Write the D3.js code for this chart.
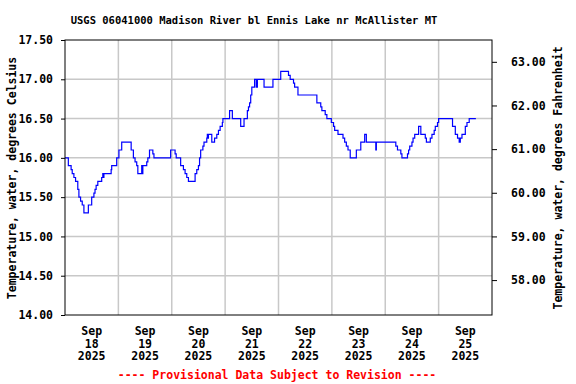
<!DOCTYPE html>
<html>
<head>
<meta charset="utf-8">
<script src="https://cdn.jsdelivr.net/npm/d3@7"></script>
<style>
  body { margin: 0; background: #fff; }
  text { font-family: "DejaVu Sans Mono", monospace; font-weight: bold; }
</style>
</head>
<body>
<svg id="chart" width="576" height="384"></svg>
<script>
// hours after Sep 18 2025 00:00 where the reading changes, and the new reading
var stepHours = [0, 1.5, 2.75, 3.25, 4, 4.75, 5.75, 6.25, 7, 7.75, 8.5, 10.5, 12, 13, 13.5, 14, 14.75,
  16.5, 17, 17.25, 17.5, 20.75, 21, 23.25, 24.25, 25.5, 29.75, 30.75, 31.5, 32.25, 32.75, 34.5, 34.75,
  35, 36.75, 37.25, 38, 39.5, 40, 47.5, 49.5, 50, 52, 53.25, 54, 54.75, 55.5, 58.5, 59.25, 60, 60.5,
  61, 62, 62.5, 63.75, 64, 64.25, 64.5, 66, 67.25, 68.25, 69, 69.75, 70.75, 71, 74, 75.25, 79, 80.5,
  82, 82.5, 83, 83.5, 84, 85.25, 86, 86.5, 89.5, 93.5, 97, 100.5, 101.25, 102.75, 103.25, 104.75,
  113.25, 115, 115.5, 117, 117.75, 119.75, 120.75, 121.25, 122.75, 125, 125.75, 126.5, 127.25, 128.25,
  131, 133, 134.75, 135.5, 139.75, 140, 148.75, 149.5, 151, 151.5, 154, 154.5, 155, 156, 156.5, 157.25,
  159, 160, 162, 162.5, 164.25, 165, 166, 166.5, 167.5, 168, 174.25, 175.5, 176.5, 177.25, 177.75,
  178.5, 180, 180.75, 181.75, 184.75];
var tempC = [16.0, 15.9, 15.85, 15.8, 15.75, 15.7, 15.6, 15.5, 15.45, 15.4, 15.3, 15.4, 15.5, 15.55, 15.6, 15.65, 15.7,
  15.75, 15.8, 15.75, 15.8, 15.85, 15.9, 16.0, 16.1, 16.2, 16.1, 16.0, 15.95, 15.9, 15.8, 15.9, 15.8,
  15.9, 15.95, 16.0, 16.1, 16.05, 16.0, 16.1, 16.05, 16.0, 15.9, 15.85, 15.8, 15.75, 15.7, 15.8, 15.85, 15.9, 16.0,
  16.1, 16.15, 16.2, 16.25, 16.3, 16.25, 16.3, 16.2, 16.25, 16.3, 16.35, 16.4, 16.45, 16.5, 16.6, 16.5, 16.4, 16.5,
  16.6, 16.65, 16.7, 16.8, 16.9, 17.0, 16.9, 17.0, 16.9, 17.0, 17.1, 17.05, 17.0, 16.95, 16.9, 16.8,
  16.7, 16.65, 16.6, 16.55, 16.5, 16.45, 16.4, 16.35, 16.3, 16.25, 16.2, 16.15, 16.1, 16.0,
  16.1, 16.2, 16.3, 16.2, 16.1, 16.2, 16.15, 16.1, 16.05, 16.0, 16.05, 16.1, 16.15, 16.2, 16.25, 16.3,
  16.4, 16.3, 16.25, 16.2, 16.25, 16.3, 16.35, 16.4, 16.45, 16.5, 16.4, 16.3, 16.25, 16.2, 16.25,
  16.3, 16.4, 16.45, 16.5, 16.5];

var dayLabels = ["18", "19", "20", "21", "22", "23", "24", "25"];
var celsiusTicks = [14.0, 14.5, 15.0, 15.5, 16.0, 16.5, 17.0, 17.5];
var fahrenheitTicks = [58, 59, 60, 61, 62, 63];

var title = "USGS 06041000 Madison River bl Ennis Lake nr McAllister MT";
var leftTitle = "Temperature, water, degrees Celsius";
var rightTitle = "Temperature, water, degrees Fahrenheit";
var footer = "---- Provisional Data Subject to Revision ----";

var svg = d3.select("#chart");
var m = { left: 65, right: 492, top: 40, bottom: 315 };
var start = Date.UTC(2025, 8, 18);
var hour = 3600 * 1000;

var x = d3.scaleUtc().domain([start, start + 8 * 24 * hour]).range([m.left, m.right]);
var y = d3.scaleLinear().domain([14, 17.5]).range([m.bottom, m.top]);
var yF = d3.scaleLinear().domain([14 * 9 / 5 + 32, 17.5 * 9 / 5 + 32]).range([m.bottom, m.top]);

// grid
var grid = svg.append("g").attr("stroke", "#c8c8c8").attr("stroke-width", 1.5);
d3.range(1, 8).forEach(function (d) {
  var gx = x(start + d * 24 * hour);
  grid.append("line").attr("x1", gx).attr("x2", gx).attr("y1", m.top).attr("y2", m.bottom);
});
celsiusTicks.slice(1, -1).forEach(function (t) {
  grid.append("line").attr("x1", m.left).attr("x2", m.right).attr("y1", y(t)).attr("y2", y(t));
});

// data line
var pts = stepHours.map(function (h, i) { return [start + h * hour, tempC[i]]; });
var line = d3.line()
  .x(function (d) { return x(d[0]); })
  .y(function (d) { return y(d[1]); })
  .curve(d3.curveStepAfter);
svg.append("path").datum(pts)
  .attr("fill", "none").attr("stroke", "#0000ff").attr("stroke-width", 1.2)
  .attr("d", line);

// frame
svg.append("rect")
  .attr("x", m.left).attr("y", m.top)
  .attr("width", m.right - m.left).attr("height", m.bottom - m.top)
  .attr("fill", "none").attr("stroke", "#000").attr("stroke-width", 1);

// left axis
var la = svg.append("g").attr("transform", "translate(" + m.left + ",0)")
  .call(d3.axisLeft(y).tickValues(celsiusTicks).tickFormat(d3.format(".2f")).tickSize(4).tickPadding(8));
la.select(".domain").remove();
la.selectAll("text").attr("font-size", 11.5).attr("fill", "#000")
  .style("font-family", "DejaVu Sans Mono").style("font-weight", "bold");

// right axis
var ra = svg.append("g").attr("transform", "translate(" + m.right + ",0)")
  .call(d3.axisRight(yF).tickValues(fahrenheitTicks).tickFormat(d3.format(".2f")).tickSize(5).tickPadding(14));
ra.select(".domain").remove();
ra.selectAll("text").attr("font-size", 11.5).attr("fill", "#000")
  .style("font-family", "DejaVu Sans Mono").style("font-weight", "bold");

// date labels at noon
dayLabels.forEach(function (d, i) {
  var cx = x(start + (i * 24 + 12) * hour);
  var t = svg.append("text").attr("text-anchor", "middle").attr("font-size", 11.5)
    .attr("x", cx).attr("y", 335);
  ["Sep", d, "2025"].forEach(function (s, j) {
    t.append("tspan").attr("x", cx).attr("dy", j ? 12.7 : 0).text(s);
  });
});

svg.append("text").attr("x", 254).attr("y", 24).attr("text-anchor", "middle")
  .attr("font-size", 10.5).text(title);

svg.append("text").attr("transform", "translate(16,178) rotate(-90)")
  .attr("text-anchor", "middle").attr("font-size", 11.5).text(leftTitle);

svg.append("text").attr("transform", "translate(562,178) rotate(-90)")
  .attr("text-anchor", "middle").attr("font-size", 11.5).text(rightTitle);

svg.append("text").attr("x", 277).attr("y", 379).attr("text-anchor", "middle")
  .attr("font-size", 11.5).attr("fill", "#ff0000").text(footer);
</script>
</body>
</html>
